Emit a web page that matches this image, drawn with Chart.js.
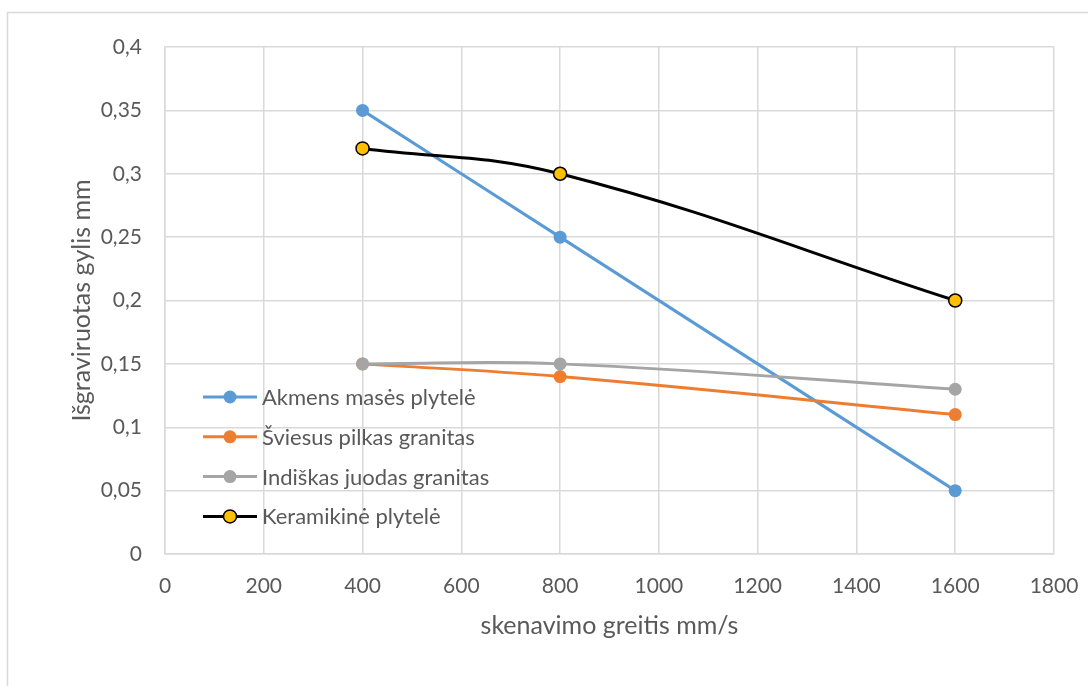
<!DOCTYPE html>
<html lang="lt">
<head>
<meta charset="utf-8">
<title>Išgraviruotas gylis</title>
<script src="https://cdn.jsdelivr.net/npm/chart.js@4.4.1/dist/chart.umd.min.js"></script>
<style>
    html, body { margin: 0; padding: 0; background: #ffffff; }
    #chart { display: block; }
</style>
</head>
<body>
<canvas id="chart" width="1088" height="686"></canvas>
<script>
// Duomenys — nuskaityti nuo grafiko
const greiciai = [400, 800, 1600];               // skenavimo greitis mm/s
const akmensMases = [0.35, 0.25, 0.05];
const sviesusGranitas = [0.15, 0.14, 0.11];
const indiskasGranitas = [0.15, 0.15, 0.13];
const keramikine = [0.32, 0.30, 0.20];
const serijuPavadinimai = [
    'Akmens masės plytelė',
    'Šviesus pilkas granitas',
    'Indiškas juodas granitas',
    'Keramikinė plytelė'
];
const xTitle = 'skenavimo greitis mm/s';
const yTitle = 'Išgraviruotas gylis mm';

// Paletė (Excel stilius)
const C = {
    blue: '#5B9BD5',
    orange: '#ED7D31',
    gray: '#A5A5A5',
    black: '#000000',
    yellow: '#FFC000',
    grid: '#D9D9D9',
    text: '#595959'
};
const FONT = "Lato, 'Open Sans', sans-serif";

function taskai(ys) {
    return greiciai.map((x, i) => ({ x: x, y: ys[i] }));
}

function serija(label, ys, line, fill, border, order) {
    return {
        label: label,
        data: taskai(ys),
        showLine: true,
        borderColor: line,
        borderWidth: 3,
        pointRadius: 6.5,
        pointBackgroundColor: fill,
        pointBorderColor: border,
        pointBorderWidth: border === fill ? 0 : 1.5,
        tension: 0.4,
        order: order
    };
}

// Rėmelis aplink visą diagramą
const remelis = {
    id: 'remelis',
    beforeDraw(chart) {
        const ctx = chart.ctx;
        ctx.save();
        ctx.strokeStyle = C.grid;
        ctx.lineWidth = 1.5;
        ctx.strokeRect(7.5, 12.5, chart.width + 20, chart.height + 20);
        ctx.restore();
    }
};

// Legenda braižyta diagramos viduje, kairėje
const legendaViduje = {
    id: 'legendaViduje',
    afterDatasetsDraw(chart) {
        const ctx = chart.ctx;
        const area = chart.chartArea;
        const x0 = area.left + 38;
        const y0 = area.top + 350;
        const tarpas = 39.8;
        ctx.save();
        ctx.font = '22px ' + FONT;
        ctx.textBaseline = 'middle';
        ctx.textAlign = 'left';
        chart.data.datasets.forEach((ds, i) => {
            const y = y0 + i * tarpas;
            ctx.strokeStyle = ds.borderColor;
            ctx.lineWidth = 3;
            ctx.beginPath();
            ctx.moveTo(x0, y);
            ctx.lineTo(x0 + 54, y);
            ctx.stroke();
            ctx.beginPath();
            ctx.arc(x0 + 27, y, 6.5, 0, Math.PI * 2);
            ctx.fillStyle = ds.pointBackgroundColor;
            ctx.fill();
            if (ds.pointBorderWidth > 0) {
                ctx.lineWidth = ds.pointBorderWidth;
                ctx.strokeStyle = ds.pointBorderColor;
                ctx.stroke();
            }
            ctx.fillStyle = C.text;
            ctx.fillText(ds.label, x0 + 59, y + 1);
        });
        ctx.restore();
    }
};

new Chart(document.getElementById('chart'), {
    type: 'scatter',
    data: {
        datasets: [
            serija(serijuPavadinimai[0], akmensMases, C.blue, C.blue, C.blue, 4),
            serija(serijuPavadinimai[1], sviesusGranitas, C.orange, C.orange, C.orange, 3),
            serija(serijuPavadinimai[2], indiskasGranitas, C.gray, C.gray, C.gray, 2),
            serija(serijuPavadinimai[3], keramikine, C.black, C.yellow, C.black, 1)
        ]
    },
    options: {
        responsive: false,
        animation: false,
        layout: { padding: { left: 0, top: 47, right: 34, bottom: 0 } },
        plugins: {
            legend: { display: false },
            tooltip: { enabled: false }
        },
        scales: {
            x: {
                type: 'linear',
                min: 0,
                max: 1800,
                afterFit: s => { s.height = 132; s.paddingLeft = 0; s.paddingRight = 0; },
                grid: { color: C.grid, lineWidth: 1.5, drawTicks: false },
                border: { color: C.grid, width: 1.5 },
                ticks: {
                    stepSize: 200,
                    padding: 20,
                    color: C.text,
                    font: { family: FONT, size: 21 },
                    callback: v => String(v)
                },
                title: {
                    display: true,
                    text: xTitle,
                    color: C.text,
                    font: { family: FONT, size: 25 },
                    padding: { top: 0, bottom: 45 }
                }
            },
            y: {
                min: 0,
                max: 0.4,
                afterFit: s => { s.width = 165; s.paddingTop = 0; s.paddingBottom = 0; },
                grid: { color: C.grid, lineWidth: 1.5, drawTicks: false },
                border: { color: C.grid, width: 1.5 },
                ticks: {
                    stepSize: 0.05,
                    padding: 23,
                    color: C.text,
                    font: { family: FONT, size: 21 },
                    callback: v => String(Math.round(v * 100) / 100).replace('.', ',')
                },
                title: {
                    display: true,
                    text: yTitle,
                    color: C.text,
                    font: { family: FONT, size: 25 },
                    padding: { top: 67, bottom: 0 }
                }
            }
        }
    },
    plugins: [remelis, legendaViduje]
});
</script>
</body>
</html>
